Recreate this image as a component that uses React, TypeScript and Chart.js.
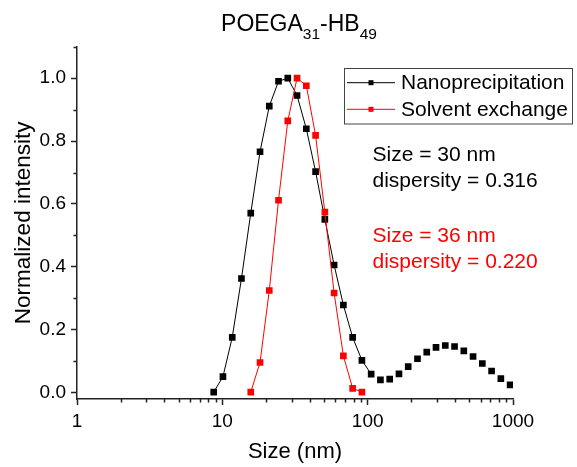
import React, { useEffect, useRef } from 'react';
import { Chart, registerables } from 'chart.js';

Chart.register(...registerables);

// ---- data ----
const sizesNano = [8.721, 10.1, 11.7, 13.54, 15.69, 18.17, 21.04, 24.36, 28.21, 32.67, 37.84, 43.82, 50.75, 58.77, 68.06, 78.82, 91.28, 105.7, 122.4, 141.8, 164.2, 190.1, 220.2, 255.0, 295.3, 342.0, 396.1, 458.7, 531.2, 615.1, 712.4, 825.0, 955.4];
const intensityNano = [0.002, 0.051, 0.176, 0.363, 0.571, 0.766, 0.911, 0.99, 1.0, 0.945, 0.839, 0.703, 0.551, 0.406, 0.279, 0.176, 0.103, 0.059, 0.041, 0.043, 0.06, 0.083, 0.108, 0.129, 0.144, 0.15, 0.147, 0.133, 0.115, 0.093, 0.069, 0.045, 0.025];
const sizesSolvent = [15.69, 18.17, 21.04, 24.36, 28.21, 32.67, 37.84, 43.82, 50.75, 58.77, 68.06, 78.82, 91.28];
const intensitySolvent = [0.002, 0.096, 0.325, 0.612, 0.864, 1.0, 0.976, 0.818, 0.574, 0.317, 0.117, 0.014, 0.002];
const seriesLabels = ['Nanoprecipitation', 'Solvent exchange'];
const seriesColors = ['#000000', '#ff0000'];
const xMajorTicks = [1, 10, 100, 1000];
const xMinorTicks = [2, 3, 4, 5, 6, 7, 8, 9, 20, 30, 40, 50, 60, 70, 80, 90, 200, 300, 400, 500, 600, 700, 800, 900];
const yMajorTicks = [0, 0.2, 0.4, 0.6, 0.8, 1.0];
const yMinorTicks = [0.1, 0.3, 0.5, 0.7, 0.9, 1.1];
const noteNano = ['Size = 30 nm', 'dispersity = 0.316'];
const noteSolvent = ['Size = 36 nm', 'dispersity = 0.220'];
const lineEndIndexNano = 17; // black line stops after this point

const FONT = "'Liberation Sans', Arial, sans-serif";
const AXIS = '#222222';

const decorPlugin = {
  id: 'decor',
  afterDraw(chart: any) {
    const { ctx, chartArea, scales } = chart;
    const xs = scales.x;
    const ys = scales.y;
    ctx.save();
    // minor ticks
    ctx.strokeStyle = AXIS;
    ctx.lineWidth = 1.5;
    ctx.beginPath();
    xMinorTicks.forEach((v) => {
      const px = Math.round(xs.getPixelForValue(v)) + 0.5;
      ctx.moveTo(px, chartArea.bottom);
      ctx.lineTo(px, chartArea.bottom + 3.5);
    });
    yMinorTicks.forEach((v) => {
      const py = Math.round(ys.getPixelForValue(v)) + 0.5;
      ctx.moveTo(chartArea.left, py);
      ctx.lineTo(chartArea.left - 3.5, py);
    });
    ctx.stroke();

    // title with subscripts
    const main = `23px ${FONT}`;
    const sub = `15.5px ${FONT}`;
    const parts: [string, string, number][] = [
      ['POEGA', main, 30.5],
      ['31', sub, 38.5],
      ['-HB', main, 30.5],
      ['49', sub, 38.5],
    ];
    let total = 0;
    parts.forEach(([t, f]) => { ctx.font = f; total += ctx.measureText(t).width; });
    let x = 299 - total / 2;
    ctx.fillStyle = '#000';
    ctx.textBaseline = 'alphabetic';
    ctx.textAlign = 'left';
    parts.forEach(([t, f, y]) => {
      ctx.font = f;
      ctx.fillText(t, x, y);
      x += ctx.measureText(t).width;
    });

    // legend
    ctx.strokeStyle = '#444';
    ctx.lineWidth = 1;
    ctx.strokeRect(344.5, 68.5, 228, 55.5);
    const rows = [82.7, 109.3];
    chart.data.datasets.forEach((ds: any, i: number) => {
      const y = rows[i];
      ctx.strokeStyle = ds.borderColor;
      ctx.lineWidth = 1;
      ctx.beginPath();
      ctx.moveTo(347, y);
      ctx.lineTo(395, y);
      ctx.stroke();
      ctx.fillStyle = ds.borderColor;
      ctx.fillRect(371 - 2.5, y - 2.5, 5, 5);
      ctx.fillStyle = '#000';
      ctx.font = `21px ${FONT}`;
      ctx.textBaseline = 'middle';
      ctx.fillText(ds.label, 401, y + 1);
    });

    // annotations
    ctx.textBaseline = 'alphabetic';
    ctx.font = `21px ${FONT}`;
    ctx.fillStyle = seriesColors[0];
    ctx.fillText(noteNano[0], 372.5, 160.7);
    ctx.fillText(noteNano[1], 372.5, 187.3);
    ctx.fillStyle = seriesColors[1];
    ctx.fillText(noteSolvent[0], 372.5, 241.7);
    ctx.fillText(noteSolvent[1], 372.5, 268.3);
    ctx.restore();
  },
};

export default function App() {
  const ref = useRef<HTMLCanvasElement>(null);
  useEffect(() => {
    if (!ref.current) return;
    const chart = new Chart(ref.current, {
      type: 'line',
      data: {
        datasets: [
          {
            label: seriesLabels[0],
            data: sizesNano.map((s, i) => ({ x: s, y: intensityNano[i] })),
            borderColor: seriesColors[0],
            backgroundColor: seriesColors[0],
            borderWidth: 1,
            pointStyle: 'rect',
            pointRadius: 4.7,
            pointBorderWidth: 0,
            tension: 0,
            order: 1,
            segment: {
              borderColor: (c: any) => (c.p0DataIndex >= lineEndIndexNano ? 'rgba(0,0,0,0)' : seriesColors[0]),
            },
          },
          {
            label: seriesLabels[1],
            data: sizesSolvent.map((s, i) => ({ x: s, y: intensitySolvent[i] })),
            borderColor: seriesColors[1],
            backgroundColor: seriesColors[1],
            borderWidth: 1,
            pointStyle: 'rect',
            pointRadius: 4.7,
            pointBorderWidth: 0,
            tension: 0,
            order: 0,
          },
        ],
      },
      options: {
        responsive: false,
        animation: false,
        devicePixelRatio: 1,
        layout: { padding: { top: 46.7, right: 64, left: 0, bottom: 0 } },
        plugins: { legend: { display: false }, tooltip: { enabled: false }, title: { display: false } },
        scales: {
          x: {
            type: 'logarithmic',
            min: 1,
            max: 1000,
            afterBuildTicks: (s: any) => { s.ticks = xMajorTicks.map((v) => ({ value: v })); },
            afterFit: (s: any) => { s.height = 68; },
            ticks: {
              autoSkip: false,
              maxRotation: 0,
              padding: 5,
              color: '#000',
              font: { family: FONT, size: 19 },
              callback: (v: any) => String(v),
            },
            grid: { display: true, drawOnChartArea: false, drawTicks: true, tickLength: 6, tickColor: AXIS, tickWidth: 1.5 },
            border: { display: true, color: AXIS, width: 1.5 },
            title: { display: true, text: 'Size (nm)', color: '#000', font: { family: FONT, size: 22 }, padding: { top: 0, bottom: 2 } },
          },
          y: {
            type: 'linear',
            min: -0.02,
            max: 1.1,
            afterBuildTicks: (s: any) => { s.ticks = yMajorTicks.map((v) => ({ value: v })); },
            afterFit: (s: any) => { s.width = 77; },
            ticks: {
              padding: 5,
              color: '#000',
              font: { family: FONT, size: 19 },
              callback: (v: any) => Number(v).toFixed(1),
            },
            grid: { display: true, drawOnChartArea: false, drawTicks: true, tickLength: 6, tickColor: AXIS, tickWidth: 1.5 },
            border: { display: true, color: AXIS, width: 1.5 },
            title: { display: true, text: 'Normalized intensity', color: '#000', font: { family: FONT, size: 22.5 }, padding: { top: 10, bottom: 0 } },
          },
        },
      },
      plugins: [decorPlugin],
    } as any);
    return () => chart.destroy();
  }, []);
  return (
    <div style={{ position: 'absolute', left: 0, top: 0, width: 577, height: 467, background: '#fff' }}>
      <canvas ref={ref} width={577} height={467} />
    </div>
  );
}
